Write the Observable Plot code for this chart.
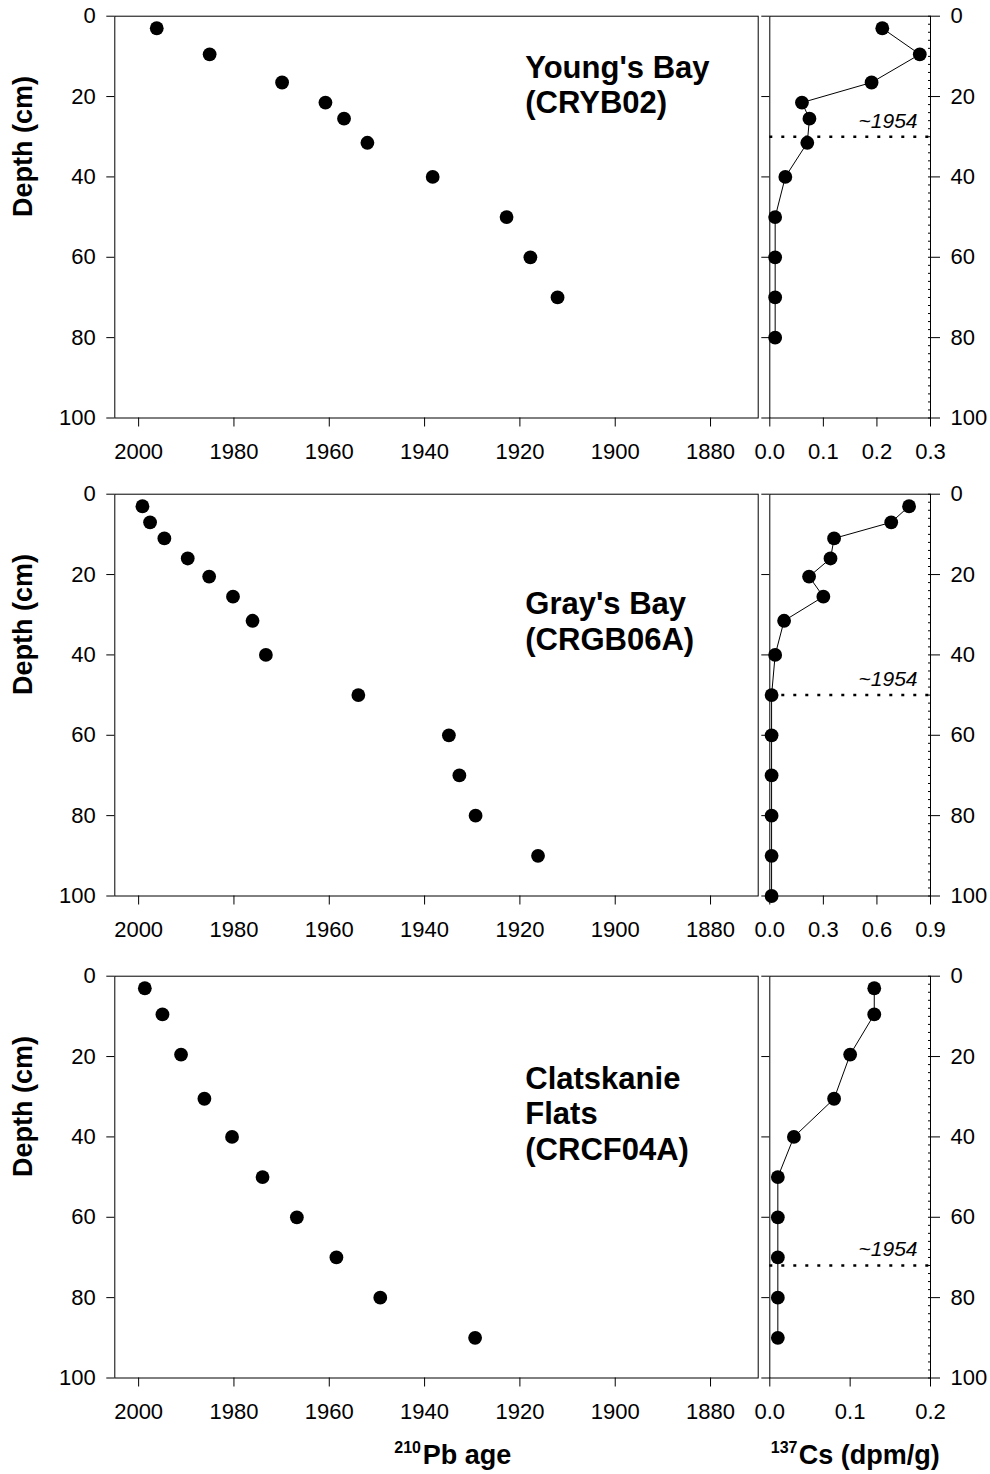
<!DOCTYPE html>
<html>
<head>
<meta charset="utf-8">
<script src="https://cdn.jsdelivr.net/npm/d3@7"></script>
<script src="https://cdn.jsdelivr.net/npm/@observablehq/plot@0.6"></script>
<style>
  body { margin: 0; background: #fff; }
  #chart { position: relative; width: 990px; height: 1474px; overflow: hidden; background: #fff; }
  #chart > svg { position: absolute; overflow: visible; }
</style>
</head>
<body>
<div id="chart"></div>
<script>
// ---------- data ----------
const siteNames = ["Young's Bay\n(CRYB02)", "Gray's Bay\n(CRGB06A)", "Clatskanie\nFlats\n(CRCF04A)"];
const ageTicks = [2000, 1980, 1960, 1940, 1920, 1900, 1880];
const depthTicks = [0, 20, 40, 60, 80, 100];
const depthMinorTicks = d3.range(0, 101, 2);
const csTicks = [[0, 0.1, 0.2, 0.3], [0, 0.3, 0.6, 0.9], [0, 0.1, 0.2]];
const csMax = [0.3, 0.9, 0.2];
const horizonDepth = [30, 50, 72];
const horizonLabel = "~1954";

// Young's Bay (CRYB02)
const ybPbDepth = [3, 9.5, 16.5, 21.5, 25.5, 31.5, 40, 50, 60, 70];
const ybPbAge   = [1996.2, 1985.1, 1969.9, 1960.8, 1956.9, 1952.0, 1938.3, 1922.8, 1917.8, 1912.1];
const ybCsDepth = [3, 9.5, 16.5, 21.5, 25.5, 31.5, 40, 50, 60, 70, 80];
const ybCs      = [0.21, 0.28, 0.19, 0.06, 0.074, 0.07, 0.029, 0.01, 0.01, 0.01, 0.01];

// Gray's Bay (CRGB06A)
const gbPbDepth = [3, 7, 11, 16, 20.5, 25.5, 31.5, 40, 50, 60, 70, 80, 90];
const gbPbAge   = [1999.2, 1997.6, 1994.6, 1989.7, 1985.2, 1980.2, 1976.1, 1973.3, 1953.9, 1934.9, 1932.7, 1929.3, 1916.2];
const gbCsDepth = [3, 7, 11, 16, 20.5, 25.5, 31.5, 40, 50, 60, 70, 80, 90, 100];
const gbCs      = [0.78, 0.68, 0.36, 0.34, 0.22, 0.30, 0.08, 0.03, 0.01, 0.01, 0.01, 0.01, 0.01, 0.01];

// Clatskanie Flats (CRCF04A)
const cfPbDepth = [3, 9.5, 19.5, 30.5, 40, 50, 60, 70, 80, 90];
const cfPbAge   = [1998.7, 1995.0, 1991.1, 1986.2, 1980.4, 1974.0, 1966.8, 1958.5, 1949.3, 1929.4];
const cfCsDepth = [3, 9.5, 19.5, 30.5, 40, 50, 60, 70, 80, 90];
const cfCs      = [0.13, 0.13, 0.10, 0.08, 0.03, 0.01, 0.01, 0.01, 0.01, 0.01];

const pbRows = [[ybPbAge, ybPbDepth], [gbPbAge, gbPbDepth], [cfPbAge, cfPbDepth]];
const csRows = [[ybCs, ybCsDepth], [gbCs, gbCsDepth], [cfCs, cfCsDepth]];

// ---------- layout ----------
const FONT = "'Liberation Sans', Arial, Helvetica, sans-serif";
const rowTop = [15.7, 494, 975.7];
const frameH = 401.8;
const leftFrameL = 114.3, leftFrameR = 757.7;
const rightFrameL = 769.3, rightFrameR = 930;
const titleDy = [36.3, 95, 87.3];

const chart = document.getElementById("chart");

function place(el, left, top) {
  el.style.left = left + "px";
  el.style.top = top + "px";
  chart.appendChild(el);
}

function baseStyle() {
  return { fontFamily: FONT, fontSize: "22px", color: "black", background: "transparent", overflow: "visible" };
}

for (let i = 0; i < 3; i++) {
  const mt = 15.7;
  const mb = i === 2 ? 98 : 52;
  const [ages, pdepth] = pbRows[i];
  const pbData = ages.map((a, k) => ({ age: a, depth: pdepth[k] }));

  const leftW = 762;
  const leftMarks = [
    Plot.frame({ stroke: "black", strokeWidth: 1 }),
    Plot.axisX(ageTicks, { anchor: "bottom", tickSize: 9, tickPadding: 16, tickFormat: d => String(d), label: null }),
    Plot.axisY(depthTicks, { anchor: "left", tickSize: 8, tickPadding: 11, label: null }),
    Plot.dot(pbData, { x: "age", y: "depth", r: 6.9, fill: "black" }),
    Plot.text([siteNames[i]], {
      text: d => d, frameAnchor: "top-left", dx: 410.5, dy: titleDy[i],
      textAnchor: "start", lineAnchor: "top", lineHeight: 1.145,
      fontSize: 31, fontWeight: "bold"
    }),
    Plot.text(["Depth (cm)"], {
      text: d => d, frameAnchor: "left", dx: -91, rotate: -90,
      fontSize: 27, fontWeight: "bold"
    })
  ];
  if (i === 2) {
    leftMarks.push(
      Plot.text(["210"], { text: d => d, frameAnchor: "bottom-left", dx: 279.5, dy: 74.7, textAnchor: "start", lineAnchor: "bottom", fontSize: 16, fontWeight: "bold" }),
      Plot.text(["Pb age"], { text: d => d, frameAnchor: "bottom-left", dx: 308, dy: 85.7, textAnchor: "start", lineAnchor: "bottom", fontSize: 27, fontWeight: "bold" })
    );
  }
  const left = Plot.plot({
    width: leftW, height: mt + frameH + mb,
    marginLeft: leftFrameL, marginRight: leftW - leftFrameR, marginTop: mt, marginBottom: mb,
    x: { domain: [2005, 1870] },
    y: { domain: [0, 100], reverse: true },
    style: baseStyle(),
    marks: leftMarks
  });
  place(left, 0, rowTop[i] - mt);

  // right panel
  const [cs, cdepth] = csRows[i];
  const csData = cs.map((c, k) => ({ cs: c, depth: cdepth[k] }));
  const rLeft = 740, rW = 250;
  const rightMarks = [
    Plot.frame({ stroke: "black", strokeWidth: 1 }),
    Plot.axisX(csTicks[i], { anchor: "bottom", tickSize: 9, tickPadding: 16, tickFormat: d => d.toFixed(1), label: null }),
    Plot.axisY(depthTicks, { anchor: "left", tickSize: 8, tickFormat: () => "", label: null }),
    Plot.axisY(depthTicks, { anchor: "right", tickSize: 9, tickPadding: 11, label: null }),
    Plot.axisY(depthMinorTicks, { anchor: "right", tickSize: 3, dx: -3, tickFormat: () => "", label: null }),
    Plot.ruleY([horizonDepth[i]], { stroke: "black", strokeWidth: 2.5, strokeDasharray: "3,9" }),
    Plot.text([{ label: horizonLabel, depth: horizonDepth[i] }], {
      y: "depth", text: "label", frameAnchor: "right", dx: -13, dy: -9,
      textAnchor: "end", lineAnchor: "bottom", fontSize: 21, fontStyle: "italic"
    }),
    Plot.line(csData, { x: "cs", y: "depth", stroke: "black", strokeWidth: 1 }),
    Plot.dot(csData, { x: "cs", y: "depth", r: 6.9, fill: "black" })
  ];
  if (i === 2) {
    rightMarks.push(
      Plot.text(["137"], { text: d => d, frameAnchor: "bottom-left", dx: 1, dy: 74.7, textAnchor: "start", lineAnchor: "bottom", fontSize: 16, fontWeight: "bold" }),
      Plot.text(["Cs (dpm/g)"], { text: d => d, frameAnchor: "bottom-left", dx: 29, dy: 85.7, textAnchor: "start", lineAnchor: "bottom", fontSize: 27, fontWeight: "bold" })
    );
  }
  const right = Plot.plot({
    width: rW, height: mt + frameH + mb,
    marginLeft: rightFrameL - rLeft, marginRight: rLeft + rW - rightFrameR, marginTop: mt, marginBottom: mb,
    x: { domain: [0, csMax[i]] },
    y: { domain: [0, 100], reverse: true },
    style: baseStyle(),
    marks: rightMarks
  });
  place(right, rLeft, rowTop[i] - mt);
}
</script>
</body>
</html>
